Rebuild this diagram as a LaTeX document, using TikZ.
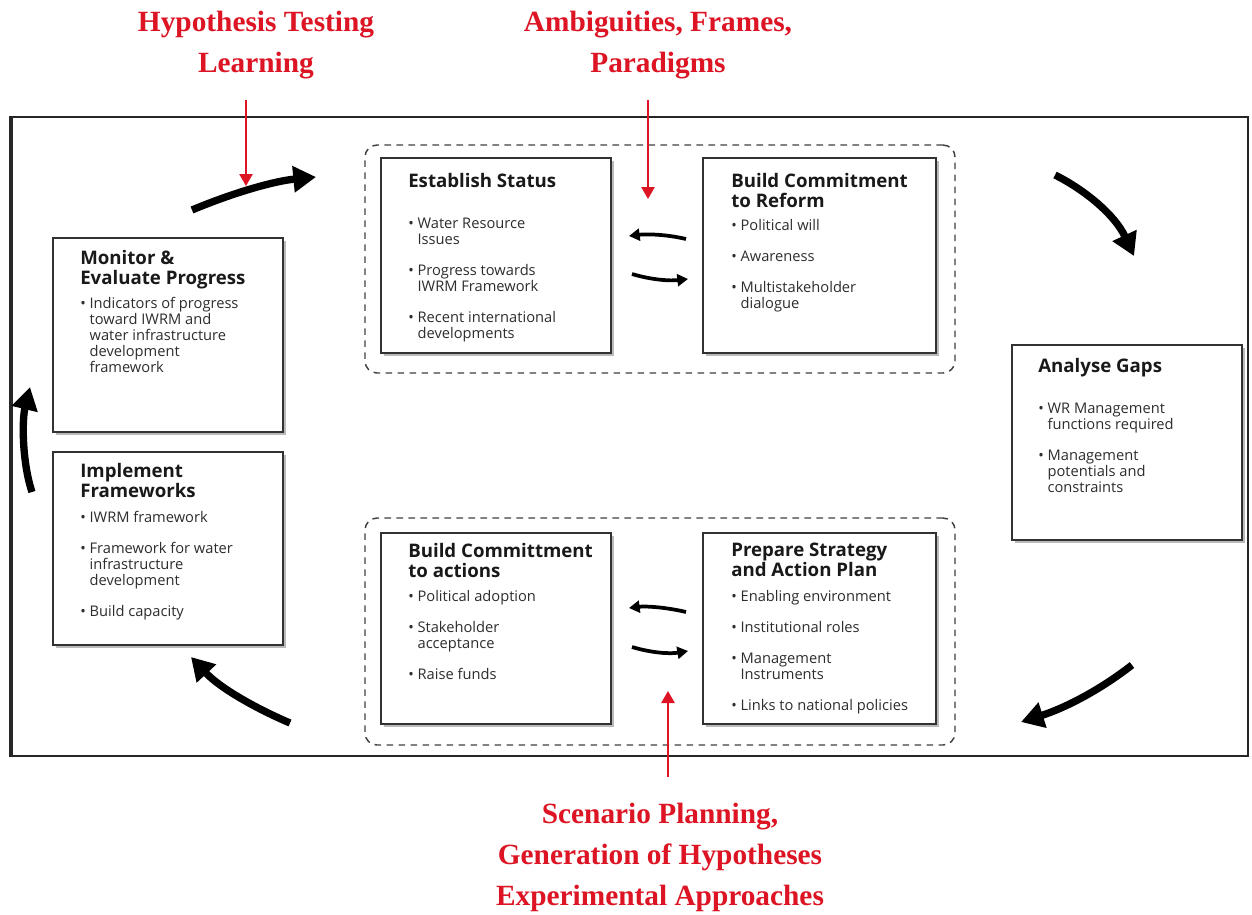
\documentclass[tikz,border=0pt]{standalone}
\usepackage{fontspec}
\newfontfamily\labfont{Liberation Serif}
\newfontfamily\boxfont{Open Sans}
\usetikzlibrary{arrows.meta,fit,shadows}
\definecolor{redlab}{RGB}{220,20,35}
\definecolor{boxline}{RGB}{50,50,50}
\definecolor{txt}{RGB}{45,45,45}
\newcommand\bi{\makebox[7pt][l]{\textbullet}}
\newcommand\ind{\hspace*{7pt}}
\begin{document}
\begin{tikzpicture}[x=0.75pt,y=-0.75pt,
 box/.style={draw=boxline,line width=1.4pt,fill=white,inner sep=0pt,drop shadow={shadow xshift=2.5pt,shadow yshift=-2.5pt,fill=black!45,opacity=0.6}},
 grp/.style={draw=black!75,line width=1.1pt,dash pattern=on 5pt off 4pt,rounded corners=9pt,inner sep=0pt},
 ttl/.style={anchor=north west,inner sep=0pt,align=left,text=black!90,font=\boxfont\bfseries\fontsize{14}{15}\selectfont},
 bul/.style={anchor=north west,inner sep=0pt,align=left,text=txt,font=\boxfont\fontsize{11}{12}\selectfont},
 lab/.style={anchor=north,inner sep=0pt,align=center,text=redlab,font=\labfont\bfseries\fontsize{22}{30.75}\selectfont},
 big/.style={line width=5.5pt,-{Triangle[length=17pt,width=19pt]}},
 small/.style={line width=2.8pt,-{Triangle[length=8pt,width=9pt]}},
 redar/.style={draw=redlab,line width=1.2pt,-{Triangle[length=9pt,width=10pt]}},
]
\useasboundingbox[fill=white] (0,0) rectangle (1252,914);

% outer frame
\node[draw=black!85,line width=1.5pt,inner sep=0pt,fit={(12,117)(1248,756)}] (frame) {};
\draw[line width=3pt,black!85] (frame.north west) -- (frame.south west);

% dashed groups
\node[grp,fit={(365,145)(955,373)}] (gtop) {};
\node[grp,fit={(365,518)(955,745)}] (gbot) {};

% boxes
\node[box,fit={(53,238)(283,432)}] (monitor) {};
\node[box,fit={(53,452)(283,645)}] (implement) {};
\node[box,fit={(381,158)(611,353)}] (establish) {};
\node[box,fit={(703,158)(936,353)}] (reform) {};
\node[box,fit={(381,533)(611,724)}] (actions) {};
\node[box,fit={(703,533)(936,724)}] (strategy) {};
\node[box,fit={(1012,345)(1242,540)}] (gaps) {};

% texts
\node[ttl] (monitorT) at (80,250) {Monitor \&\\Evaluate Progress};
\node[bul] (monitorB) at (80,297) {\bi Indicators of progress\\\ind toward IWRM and\\\ind water infrastructure\\\ind development\\\ind framework};

\node[ttl] (implementT) at (80,463) {Implement\\Frameworks};
\node[bul] (implementB) at (80,511) {\bi IWRM framework\\[11.25pt]\bi Framework for water\\\ind infrastructure\\\ind development\\[11.25pt]\bi Build capacity};

\node[ttl] (establishT) at (408,173) {Establish Status};
\node[bul] (establishB) at (408,218) {\bi Water Resource\\\ind Issues\\[11.25pt]\bi Progress towards\\\ind IWRM Framework\\[11.25pt]\bi Recent international\\\ind developments};

\node[ttl] (reformT) at (731,173) {Build Commitment\\to Reform};
\node[bul] (reformB) at (731,219) {\bi Political will\\[11.25pt]\bi Awareness\\[11.25pt]\bi Multistakeholder\\\ind dialogue};

\node[ttl] (actionsT) at (408,543) {Build Committment\\to actions};
\node[bul] (actionsB) at (408,590) {\bi Political adoption\\[11.25pt]\bi Stakeholder\\\ind acceptance\\[11.25pt]\bi Raise funds};

\node[ttl] (strategyT) at (731,543) {Prepare Strategy\\and Action Plan};
\node[bul] (strategyB) at (731,590) {\bi Enabling environment\\[11.25pt]\bi Institutional roles\\[11.25pt]\bi Management\\\ind Instruments\\[11.25pt]\bi Links to national policies};

\node[ttl] (gapsT) at (1038,358) {Analyse Gaps};
\node[bul] (gapsB) at (1038,403) {\bi WR Management\\\ind functions required\\[11.25pt]\bi Management\\\ind potentials and\\\ind constraints};

% red labels
\node[lab] (hyp) at (256,11) {Hypothesis Testing\\Learning};
\node[lab] (amb) at (658,11) {Ambiguities, Frames,\\Paradigms};
\node[lab] (scen) at (660,803) {Scenario Planning,\\Generation of Hypotheses\\Experimental Approaches};

% big cycle arrows
\coordinate (a1s) at (192,210); \coordinate (a1e) at (316,177);
\draw[big] (a1s) .. controls (235,192) and (275,181) .. (a1e);
\coordinate (a2s) at (1055,175); \coordinate (a2e) at (1134,256);
\draw[big] (a2s) .. controls (1085,190) and (1115,215) .. (a2e);
\coordinate (a3s) at (1132,665); \coordinate (a3e) at (1021,722);
\draw[big] (a3s) .. controls (1100,690) and (1065,708) .. (a3e);
\coordinate (a4s) at (290,723); \coordinate (a4e) at (191,657);
\draw[big] (a4s) .. controls (255,708) and (220,688) .. (a4e);
\coordinate (a5s) at (32,492); \coordinate (a5e) at (30,387);
\draw[big] (a5s) .. controls (22,462) and (22,420) .. (a5e);

% small double arrows
\coordinate (s1s) at (686,239); \coordinate (s1e) at (629,236);
\draw[small] (s1s) .. controls (665,234) and (645,234) .. (s1e);
\coordinate (s2s) at (632,274); \coordinate (s2e) at (688,279);
\draw[small] (s2s) .. controls (652,280) and (670,281) .. (s2e);
\coordinate (s3s) at (686,612); \coordinate (s3e) at (629,608);
\draw[small] (s3s) .. controls (665,607) and (645,606) .. (s3e);
\coordinate (s4s) at (632,647); \coordinate (s4e) at (688,651);
\draw[small] (s4s) .. controls (652,653) and (670,654) .. (s4e);

% red arrows
\coordinate (r1s) at (246,100); \coordinate (r1e) at (246,186);
\draw[redar] (r1s) -- (r1e);
\coordinate (r2s) at (648,100); \coordinate (r2e) at (648,199);
\draw[redar] (r2s) -- (r2e);
\coordinate (r3s) at (668,777); \coordinate (r3e) at (668,691);
\draw[redar] (r3s) -- (r3e);
\end{tikzpicture}
\end{document}
